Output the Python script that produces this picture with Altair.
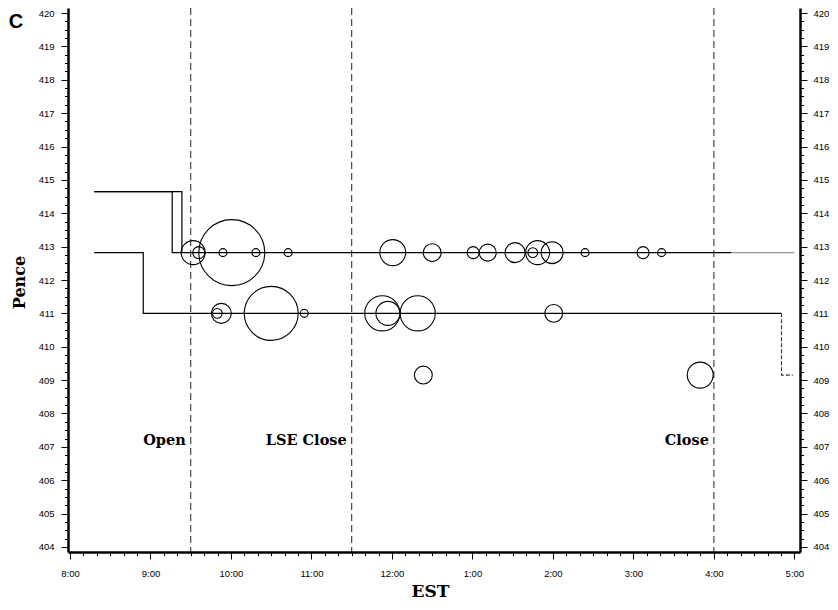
import altair as alt
import pandas as pd

# ---- quote lines (time in hours EST, price in pence), step shaped ----
upper_t = [8.30, 9.39, 16.22]
upper_p = [414.65, 412.82, 412.82]
upper_late_t = [16.22, 17.00]
upper_late_p = [412.82, 412.82]
upper2_t = [8.30, 9.27, 9.39]
upper2_p = [414.65, 412.82, 412.82]
lower_t = [8.30, 8.91, 16.84]
lower_p = [412.82, 411.00, 411.00]
tail_t = [16.84, 16.84, 16.98]
tail_p = [411.00, 409.15, 409.15]

# ---- trades: time, price, volume (relative) ----
trade_t = [9.53, 9.60, 9.90, 10.01, 10.31, 10.71, 12.01, 12.50, 13.01, 13.19,
           13.53, 13.75, 13.81, 13.99, 14.40, 15.12, 15.35,
           9.83, 9.88, 10.50, 10.91, 11.88, 11.95, 12.32, 14.01,
           12.39, 15.83]
trade_p = [412.82] * 17 + [411.00] * 8 + [409.15, 409.15]
trade_v = [36, 9, 4, 272, 4, 4, 42, 20, 9, 18,
           25, 6, 36, 30, 4, 9, 4,
           6, 25, 182, 4, 77, 36, 77, 20,
           20, 42]

# ---- market events ----
event_t = [9.5, 11.5, 16.0]
event_label = ["Open", "LSE Close", "Close"]
event_label_p = [407.19, 407.19, 407.19]

X_DOMAIN = [7.975, 17.07]
Y_DOMAIN = [403.85, 420.15]
x_ticks = [round(8 + i / 6, 4) for i in range(55)]
y_ticks = [404 + i * 0.25 for i in range(65)]

rows = []
for name, ts, ps in [("ask", upper_t, upper_p), ("ask2", upper2_t, upper2_p),
                     ("bid", lower_t, lower_p)]:
    for i, (t, p) in enumerate(zip(ts, ps)):
        rows.append({"series": name, "t": t, "p": p, "idx": i})
lines_df = pd.DataFrame(rows)
late_df = pd.DataFrame({"t": upper_late_t, "p": upper_late_p})
tail_df = pd.DataFrame({"t": tail_t, "p": tail_p, "idx": list(range(len(tail_t)))})
trades_df = pd.DataFrame({"t": trade_t, "p": trade_p, "v": trade_v})
events_df = pd.DataFrame({"t": event_t, "label": event_label, "p": event_label_p})

major = "abs(datum.value - round(datum.value)) < 0.01"
xs = alt.Scale(domain=X_DOMAIN, nice=False, zero=False)
ys = alt.Scale(domain=Y_DOMAIN, nice=False, zero=False)

x_axis = alt.Axis(
    values=x_ticks,
    labelExpr="abs(datum.value - round(datum.value)) < 0.01 ? ((round(datum.value) > 12 ? round(datum.value) - 12 : round(datum.value)) + ':00') : ''",
    tickSize={"condition": {"test": major, "value": 7}, "value": 3.5},
    labelPadding=9, labelOverlap=False, labelFlush=False, labelBound=False,
    title="EST", titleFont="DejaVu Serif", titleFontWeight="bold", titleFontSize=17,
    titleX=362, titleY=44, titleAlign="center", titleBaseline="alphabetic",
)
X = alt.X("t:Q", scale=xs, axis=x_axis, title="EST")

y_left = alt.Axis(
    values=y_ticks, orient="left",
    labelExpr="abs(datum.value - round(datum.value)) < 0.01 ? format(datum.value, 'd') : ''",
    tickSize={"condition": {"test": major, "value": 7}, "value": 3.5},
    labelPadding=7, labelOverlap=False, labelFlush=False, labelBound=False,
    title="Pence", titleFont="DejaVu Serif", titleFontWeight="bold", titleFontSize=16,
    titleX=-44, titleY=274, titleAngle=270, titleAlign="center", titleBaseline="alphabetic",
)
y_right = alt.Axis(
    values=y_ticks, orient="right",
    labelExpr="abs(datum.value - round(datum.value)) < 0.01 ? format(datum.value, 'd') : ''",
    tickSize={"condition": {"test": major, "value": 7}, "value": 3.5},
    labelPadding=6, labelOverlap=False, labelFlush=False, labelBound=False,
    title=None,
)

lines = alt.Chart(lines_df).mark_line(interpolate="step-after", color="black", strokeWidth=1.2).encode(
    x=X, y=alt.Y("p:Q", scale=ys, axis=y_left), detail="series:N", order="idx:Q")

late = alt.Chart(late_df).mark_line(color="#999", strokeWidth=1.2).encode(
    x=X, y=alt.Y("p:Q", scale=ys, axis=None))

tail = alt.Chart(tail_df).mark_line(interpolate="linear", color="#333", strokeWidth=1.1, strokeDash=[4, 2]).encode(
    x=X, y=alt.Y("p:Q", scale=ys, axis=None), order="idx:Q")

rules = alt.Chart(events_df).mark_rule(color="#222", strokeWidth=1, strokeDash=[7, 4]).encode(x=X)

labels = alt.Chart(events_df).mark_text(
    align="right", baseline="middle", dx=-5, font="DejaVu Serif", fontWeight="bold", fontSize=14.5, color="black"
).encode(x=X, y=alt.Y("p:Q", scale=ys, axis=None), text="label:N")

circles = alt.Chart(trades_df).mark_point(shape="circle", filled=False, color="black", strokeWidth=1.1, opacity=1).encode(
    x=X, y=alt.Y("p:Q", scale=ys, axis=None),
    size=alt.Size("v:Q", scale=alt.Scale(domain=[0, 300], range=[0, 4800]), legend=None))

right_axis = alt.Chart(trades_df).mark_point(opacity=0).encode(
    x=X, y=alt.Y("p:Q", scale=ys, axis=y_right))

panel_letter = alt.Chart(pd.DataFrame({"c": ["C"]})).mark_text(
    font="Liberation Sans", fontWeight="bold", fontSize=20, align="center", baseline="middle", color="black"
).encode(x=alt.value(-52), y=alt.value(14), text="c:N")

chart = alt.layer(lines, late, tail, rules, labels, circles, right_axis, panel_letter).resolve_scale(
    y="independent"
).properties(
    width=732, height=544,
    autosize=alt.AutoSizeParams(type="none"),
    padding={"left": 60, "top": 0, "right": 30, "bottom": 50},
).configure_axis(
    domainColor="black", domainWidth=2.5, tickColor="black", tickWidth=1,
    labelColor="black", labelFont="Liberation Sans", labelFontSize=9.5, grid=False,
).configure_view(stroke=None)

chart.save("out.html", embed_options={"renderer": "svg", "actions": False})
